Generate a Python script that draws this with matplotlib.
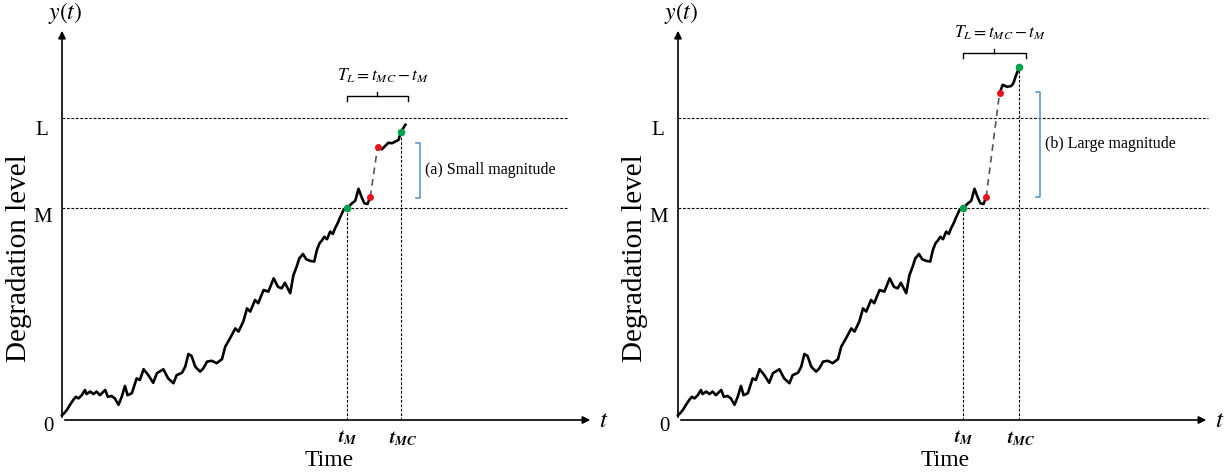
import matplotlib
matplotlib.use("Agg")
import matplotlib.pyplot as plt

# --- data (time units, degradation units) ---
M_level = 53.0
L_level = 75.4
t_M = 53.5
t_MC = [63.6, 64.0]

# common degradation path up to the shock (first red point)
t_path = [0.0, 0.4, 0.9, 1.5, 2.1, 2.6, 3.1, 3.7, 4.3, 4.6, 5.3, 5.9, 6.5, 7.1,
          8.1, 8.6, 9.3, 9.9, 10.6, 11.2, 11.8, 12.3, 13.1, 14.0, 14.6, 15.3,
          16.2, 17.1, 17.8, 19.0, 19.9, 20.9, 21.5, 22.5, 23.1, 23.7, 24.3,
          25.0, 25.9, 26.5, 27.2, 28.1, 29.0, 30.0, 30.6, 31.5, 32.5, 33.1,
          34.0, 34.7, 35.3, 36.2, 36.8, 37.8, 38.7, 39.7, 40.5, 41.2, 41.8,
          42.8, 43.4, 44.0, 44.5, 45.2, 45.8, 46.5, 47.3, 47.8, 48.3, 48.7,
          49.2, 49.7, 50.3, 50.8, 51.2, 51.7, 52.2, 52.8, 53.5, 54.4, 55.0,
          55.6, 56.2, 56.7, 57.3, 57.8]
y_path = [1.2, 1.7, 2.5, 3.8, 5.0, 5.8, 5.4, 6.2, 7.5, 6.5, 7.1, 6.5, 7.1, 6.2,
          7.5, 5.8, 6.0, 5.4, 3.8, 5.8, 8.5, 6.2, 6.7, 10.4, 10.0, 12.7, 11.2,
          9.3, 11.7, 12.7, 10.4, 9.2, 11.2, 11.8, 13.3, 16.5, 16.0, 13.3, 12.1,
          12.9, 14.6, 14.8, 14.2, 15.2, 18.3, 20.4, 22.9, 22.1, 24.6, 27.9,
          27.1, 30.0, 29.2, 32.5, 32.1, 35.4, 33.3, 32.9, 34.3, 31.7, 36.2,
          38.3, 40.4, 41.5, 40.2, 39.8, 39.6, 42.5, 44.2, 44.8, 45.8, 45.2,
          47.1, 46.5, 47.9, 49.2, 50.8, 52.5, 53.0, 54.2, 54.8, 57.8, 55.7,
          54.2, 54.0, 55.7]

# path after the shock, panel (a) small and panel (b) large magnitude
t_post = [[59.2, 60.0, 60.6, 61.2, 61.9, 62.5, 63.1, 63.6, 64.4],
          [60.3, 60.9, 61.7, 62.5, 62.9, 63.4, 64.0]]
y_post = [[68.3, 67.7, 68.5, 69.3, 69.2, 69.6, 70.0, 72.1, 73.8],
          [81.7, 83.8, 83.3, 83.5, 84.2, 86.2, 88.2]]
green_end = [(63.6, 72.1), (64.0, 88.2)]

panel_labels = ["(a) Small magnitude", "(b) Large magnitude"]
bracket_span = [(55.5, 69.3), (55.8, 82.1)]
brace_y = [81.0, 91.7]

plt.rcParams['font.family'] = ['Liberation Serif', 'DejaVu Serif']
plt.rcParams['mathtext.fontset'] = 'stix'

fig = plt.figure(figsize=(12.32, 4.75), dpi=100)
axes = [fig.add_axes([0.0, 0.0, 0.5, 1.0]), fig.add_axes([0.5, 0.0, 0.5, 1.0])]

green = '#00a04b'
red = '#e8141b'
blue = '#4f8fcc'

for i, ax in enumerate(axes):
    ax.set_xlim(-11.63, 103.9)
    ax.set_ylim(-13.75, 105)
    ax.axis('off')

    # axes with arrow heads
    ax.annotate('', xy=(0, 98), xytext=(0, 0),
                arrowprops=dict(arrowstyle='-|>', lw=1.2, color='black', mutation_scale=11))
    ax.annotate('', xy=(99.6, 0), xytext=(0, 0),
                arrowprops=dict(arrowstyle='-|>', lw=1.2, color='black', mutation_scale=11))

    # threshold lines
    x_end = 94.7 if i == 0 else 99.4
    for lev in (M_level, L_level):
        ax.plot([0, x_end], [lev, lev], color='black', lw=0.8, ls=(0, (2.5, 1.5)))
    ax.plot([t_M, t_M], [0, M_level], color='black', lw=0.8, ls=(0, (2.5, 1.5)))
    ax.plot([t_MC[i], t_MC[i]], [0, green_end[i][1]], color='black', lw=0.8, ls=(0, (2.5, 1.5)))

    # degradation path
    ax.plot(t_path, y_path, color='black', lw=1.9, solid_joinstyle='round')
    ax.plot([t_path[-1], t_post[i][0]], [y_path[-1], y_post[i][0]],
            color='#555555', lw=1.2, ls=(0, (4, 3)))
    ax.plot(t_post[i], y_post[i], color='black', lw=1.9, solid_joinstyle='round')

    ax.plot([t_M], [M_level], 'o', color=green, ms=4.5, zorder=5)
    ax.plot([green_end[i][0]], [green_end[i][1]], 'o', color=green, ms=4.5, zorder=5)
    ax.plot([t_path[-1], t_post[i][0]], [y_path[-1], y_post[i][0]], 'o',
            color=red, ms=4, ls='none', zorder=5)

    # brace above T_L
    by = brace_y[i]
    x0, x1 = t_M, t_MC[i] + 1.2
    xm = (x0 + x1) / 2
    ax.plot([x0, x0, x1, x1], [by - 1.3, by, by, by - 1.3], color='black', lw=1.0)
    ax.plot([xm, xm], [by, by + 1.1], color='black', lw=1.0)
    ax.text(xm + 1.0, by + 5.0, r'$T_L = t_{MC} - t_M$', ha='center', va='center', fontsize=12.5)

    # blue bracket and label
    b0, b1 = bracket_span[i]
    bx = 67.2 if i == 0 else 67.9
    ax.plot([bx - 0.8, bx, bx, bx - 0.8], [b1, b1, b0, b0], color=blue, lw=1.1)
    ax.text(bx + 0.9, (b0 + b1) / 2, panel_labels[i], ha='left', va='center', fontsize=11.5)

    # axis labels
    ax.text(0.6, 101.8, r'$y(t)$', ha='center', va='center', fontsize=17)
    ax.text(100.8, -0.3, r'$t$', ha='left', va='center', fontsize=18)
    ax.text(-2.6, -1.6, '0', ha='center', va='center', fontsize=15)
    ax.text(-3.6, 50.5, 'M', ha='center', va='center', fontsize=15)
    ax.text(-3.8, 72.3, 'L', ha='center', va='center', fontsize=15)
    ax.text(-8.0, 40.5, 'Degradation level', rotation=90, ha='center', va='center', fontsize=21)
    ax.text(50.1, -10.0, 'Time', ha='center', va='center', fontsize=17)
    ax.text(t_M + 0.2, -4.3, r'$\mathbfit{t}_{\mathbfit{M}}$', ha='center', va='center', fontsize=13.5)
    ax.text(t_MC[i] + 0.3, -4.6, r'$\mathbfit{t}_{\mathbfit{MC}}$', ha='center', va='center', fontsize=13.5)

fig.savefig('out.png', dpi=100, facecolor='white')
